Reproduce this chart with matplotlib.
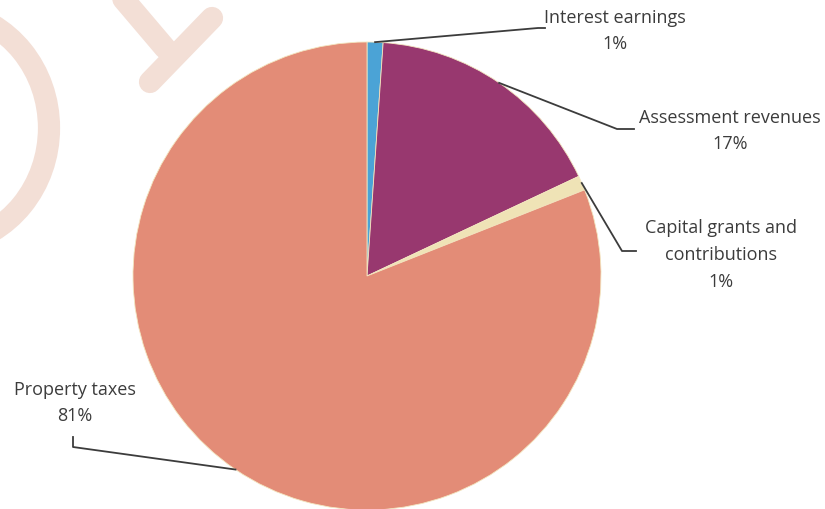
import numpy as np
import matplotlib.pyplot as plt
from matplotlib.patches import Arc
from matplotlib.lines import Line2D

labels = ["Interest earnings", "Assessment revenues", "Capital grants and\ncontributions", "Property taxes"]
shares = [1.1, 16.9, 1.0, 81.0]
pct_text = ["1%", "17%", "1%", "81%"]
colors = ["#4ba3d6", "#98386f", "#efe3b6", "#e38c77"]

plt.rcParams['font.family'] = ['Open Sans', 'DejaVu Sans']

fig = plt.figure(figsize=(8.25, 5.09), dpi=100)
W, H = 825, 509

# faint watermark strokes (drawn in figure pixel coords)
wm = "#f3dfd6"
fig.add_artist(Arc((-62 / W, 1 - 128 / H), 222 / W, 236 / H, theta1=-85, theta2=85,
                   transform=fig.transFigure, color=wm, lw=16))
fig.add_artist(Line2D([120 / W, 165 / W], [1 + 5 / H, 1 - 48 / H], transform=fig.transFigure,
                      color=wm, lw=16, solid_capstyle='round'))
fig.add_artist(Line2D([150 / W, 212 / W], [1 - 82 / H, 1 - 18 / H], transform=fig.transFigure,
                      color=wm, lw=16, solid_capstyle='round'))

# pie axes: center (367,276) px, radius 234 px
cx, cy, r = 367, 276, 234
ax = fig.add_axes([(cx - r) / W, (H - cy - r) / H, 2 * r / W, 2 * r / H])
wedges, _ = ax.pie(shares, colors=colors, startangle=90, counterclock=False,
                   wedgeprops=dict(linewidth=0.6, edgecolor="#f3e6c0"))
ax.set_xlim(-1, 1)
ax.set_ylim(-1, 1)
ax.set_aspect('equal')
ax.axis('off')


def px(x, y):
    return (x - cx) / r, (cy - y) / r


# leader elbows and label centres (pixel coords)
elbows = [[(538, 28), (545, 28)], [(617, 129), (634, 129)],
          [(622, 251), (636, 251)], [(73, 447), (73, 437)]]
text_pos = [(615, 31), (730, 131), (721, 255), (75, 403)]

txt_color = "#3c3c3c"
for i, w in enumerate(wedges):
    ang = np.deg2rad((w.theta1 + w.theta2) / 2)
    x0, y0 = np.cos(ang), np.sin(ang)
    pts = [(x0, y0)] + [px(*p) for p in elbows[i]]
    xs, ys = zip(*pts)
    ax.plot(xs, ys, color="#3c3c3c", lw=1.3, clip_on=False)
    tx, ty = px(*text_pos[i])
    ax.text(tx, ty, labels[i] + "\n" + pct_text[i], ha='center', va='center',
            fontsize=13, color=txt_color, linespacing=1.62, clip_on=False)

fig.savefig("out.png", dpi=100)
